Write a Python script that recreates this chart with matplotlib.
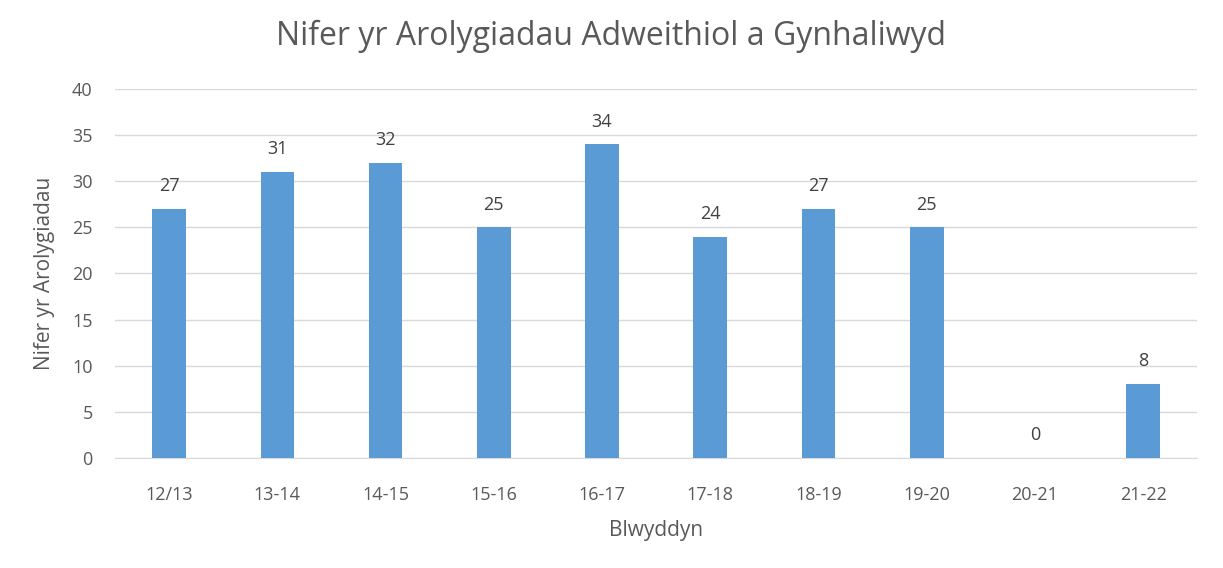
import matplotlib.pyplot as plt
import numpy as np

plt.rcParams["font.family"] = ["Open Sans", "DejaVu Sans"]

years = ["12/13", "13-14", "14-15", "15-16", "16-17", "17-18", "18-19", "19-20", "20-21", "21-22"]
inspections = [27, 31, 32, 25, 34, 24, 27, 25, 0, 8]

TEXT = "#595959"
BAR = "#5B9BD5"


def main() -> None:
    fig = plt.figure(figsize=(12.23, 5.68), dpi=100)
    ax = fig.add_axes([0.094, 0.194, 0.885, 0.649])

    x = np.arange(len(years))
    bars = ax.bar(x, inspections, width=0.31, color=BAR, zorder=3)
    for rect, val in zip(bars, inspections):
        ax.text(rect.get_x() + rect.get_width() / 2, val + 1.5, str(val),
                ha="center", va="bottom", fontsize=13, color="#404040")

    ax.set_xlim(-0.5, len(years) - 0.5)
    ax.set_ylim(0, 40)
    ax.set_yticks(range(0, 41, 5))
    ax.set_xticks(x)
    ax.set_xticklabels(years)
    ax.tick_params(axis="both", length=0, labelsize=13, colors=TEXT)
    ax.tick_params(axis="x", pad=20)
    ax.tick_params(axis="y", pad=16)
    ax.grid(axis="y", color="#D9D9D9", linewidth=1, zorder=0)
    for side in ("top", "right", "left"):
        ax.spines[side].set_visible(False)
    ax.spines["bottom"].set_color("#D9D9D9")

    ax.set_xlabel("Blwyddyn", fontsize=15, color=TEXT, labelpad=12)
    ax.set_ylabel("Nifer yr Arolygiadau", fontsize=15, color=TEXT, labelpad=12)
    fig.suptitle("Nifer yr Arolygiadau Adweithiol a Gynhaliwyd", fontsize=23,
                 color=TEXT, y=0.965)

    fig.savefig("out.png", dpi=100)
    plt.close(fig)


if __name__ == "__main__":
    main()
